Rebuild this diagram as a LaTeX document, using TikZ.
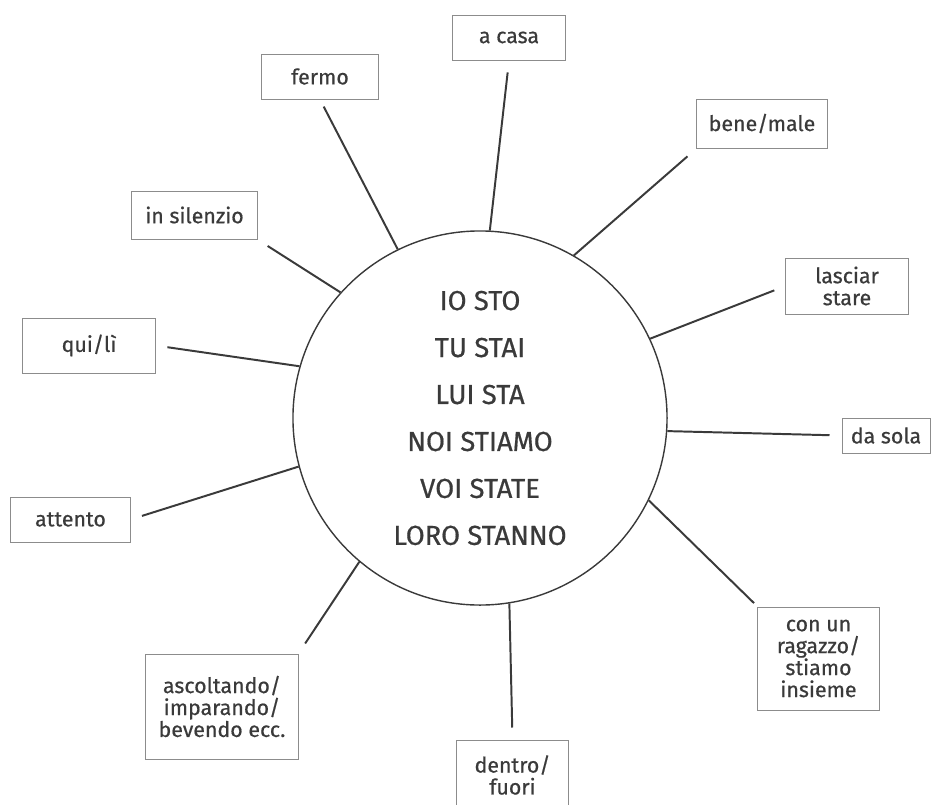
\documentclass[tikz,border=0pt]{standalone}
\usepackage{fontspec}
\setmainfont{Fira Sans}[FakeBold=0.6]
\definecolor{ink}{HTML}{3A3A3A}
\definecolor{frame}{HTML}{8C8C8C}
\tikzset{%
        x = 0.025cm,
        y = -0.025cm,
        every node/.style = {text = ink}
}
\tikzstyle{box}=[
    draw = frame,
    line width = 0.7pt,
    inner sep = 0pt,
    align = center,
    font = \fontsize{15.2}{15.6}\selectfont
]
\tikzstyle{hub}=[
    circle,
    draw = ink,
    line width = 1pt,
    minimum size = 9.35cm,
    align = center,
    font = \fontsize{19.5}{33.4}\selectfont
]
\tikzstyle{every edge}=[
    draw = ink,
    line width = 1.4pt,
    shorten > = 0.3cm
]
\begin{document}
\begin{tikzpicture}
            \useasboundingbox (0,0) rectangle (935,804);
            \node[hub] (verb) at (480,418) {IO STO\\TU STAI\\LUI STA\\NOI STIAMO\\VOI STATE\\LORO STANNO};
            \node[box, minimum width=2.9cm, minimum height=1.125cm] (fermo) at (320,76.5) {fermo};
            \node[box, minimum width=3.125cm, minimum height=1.2cm] (silenzio) at (194.5,215) {in silenzio};
            \node[box, minimum width=3.3cm, minimum height=1.375cm] (qui) at (89,345.5) {qui/lì};
            \node[box, minimum width=2.8cm, minimum height=1.125cm] (casa) at (509,37.5) {a casa};
            \node[box, minimum width=3.25cm, minimum height=1.225cm] (bene) at (762,123.5) {bene/male};
            \node[box, minimum width=3.05cm, minimum height=1.4cm] (lasciar) at (847,286) {lasciar\\stare};
            \node[box, minimum width=2.2cm, minimum height=0.875cm] (sola) at (886,435.5) {da sola};
            \node[box, minimum width=3.025cm, minimum height=2.575cm] (conun) at (818.5,658.5) {con un\\ragazzo/\\stiamo\\insieme};
            \node[box, minimum width=2.775cm, minimum height=1.75cm] (dentro) at (512.5,775) {dentro/\\fuori};
            \node[box, minimum width=3.8cm, minimum height=2.625cm] (ascolt) at (222,706.5) {ascoltando/\\imparando/\\bevendo ecc.};
            \node[box, minimum width=2.975cm, minimum height=1.125cm] (attento) at (70.5,519.5) {attento};
            \path
            (verb.116) edge[shorten > = 0.2cm] (fermo.south)
            (verb.138.5) edge (silenzio.south east)
            (verb.164.6) edge (qui.east)
            (verb.87) edge (casa.south)
            (verb.60.4) edge (bene.south west)
            (verb.25.7) edge (lasciar.west)
            (verb.-4.6) edge (sola.west)
            (verb.-26.3) edge[shorten > = 0.12cm] (conun.north west)
            (verb.-81.9) edge (dentro.north)
            (verb.230.5) edge (ascolt.north east)
            (verb.195.7) edge (attento.east)
            ;
        \end{tikzpicture}
\end{document}
